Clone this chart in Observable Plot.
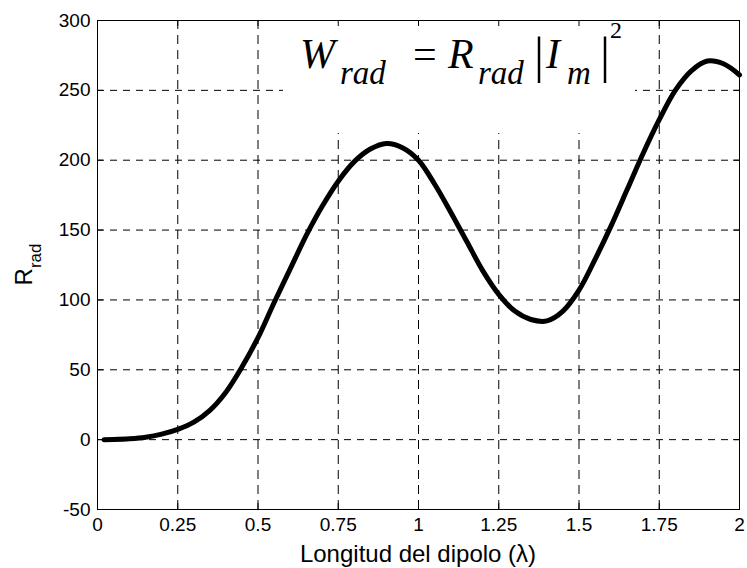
<!DOCTYPE html>
<html><head><meta charset="utf-8">
<script src="https://cdn.jsdelivr.net/npm/d3@7"></script>
<script src="https://cdn.jsdelivr.net/npm/@observablehq/plot@0.6"></script>
<style>body{margin:0;background:#fff}</style>
</head><body><div id="chart"></div>
<script>
// Dipole length (in wavelengths) and radiation resistance (ohms)
const lengths = [0.02,0.05,0.1,0.15,0.2,0.25,0.3,0.35,0.4,0.45,0.5,0.55,0.6,0.65,0.7,0.75,0.8,0.85,0.9,0.95,1.0,1.05,1.1,1.15,1.2,1.25,1.3,1.35,1.4,1.45,1.5,1.55,1.6,1.65,1.7,1.75,1.8,1.85,1.9,1.95,2.0];
const rrad    = [0,0.1,0.6,1.7,3.9,7.3,12.5,21,34,52,73,98,122,146,167,185,199,208,212,209,200,183,163,142,121,104,92,86,85,92,107,129,153,179,205,229,250,264,271,269,261];
const xTicks = [0,0.25,0.5,0.75,1,1.25,1.5,1.75,2];
const xTickLabels = ["0","0.25","0.5","0.75","1","1.25","1.5","1.75","2"];
const yTicks = [-50,0,50,100,150,200,250,300];
const yTickLabels = ["-50","0","50","100","150","200","250","300"];
const xLabel = "Longitud del dipolo (λ)";
const yLabelMain = "R", yLabelSub = "rad";

const data = lengths.map((x, i) => ({x, y: rrad[i]}));
const W = 747, H = 568, mL = 97, mR = 8, mT = 20, mB = 59;
const pw = W - mL - mR, ph = H - mT - mB, tk = 6;
const sans = "'Liberation Sans', Arial, sans-serif";
const serif = "'Liberation Serif', 'Times New Roman', serif";

const plot = Plot.plot({
  width: W, height: H, marginLeft: mL, marginRight: mR, marginTop: mT, marginBottom: mB,
  style: {fontFamily: sans, fontSize: "19px", background: "#fff", color: "#000"},
  x: {domain: [0, 2]},
  y: {domain: [-50, 300]},
  marks: [
    Plot.gridX(xTicks, {stroke: "#000", strokeOpacity: 1, strokeWidth: 1, strokeDasharray: "9,6"}),
    Plot.gridY(yTicks, {stroke: "#000", strokeOpacity: 1, strokeWidth: 1, strokeDasharray: "7,6"}),
    Plot.tickX(xTicks, {x: d => d, insetTop: ph - tk, stroke: "#000"}),
    Plot.tickX(xTicks, {x: d => d, insetBottom: ph - tk, stroke: "#000"}),
    Plot.tickY(yTicks, {y: d => d, insetRight: pw - tk, stroke: "#000"}),
    Plot.tickY(yTicks, {y: d => d, insetLeft: pw - tk, stroke: "#000"}),
    Plot.line(data, {x: "x", y: "y", stroke: "#000", strokeWidth: 5, curve: "catmull-rom", strokeLinejoin: "round"}),
    Plot.frame({stroke: "#000", strokeWidth: 1}),
    Plot.axisX(xTicks, {tickSize: 0, tickPadding: 8, label: null, fill: "#000", fontSize: 19,
      tickFormat: d => xTickLabels[xTicks.indexOf(d)]}),
    Plot.axisY(yTicks, {tickSize: 0, tickPadding: 7, label: null, fill: "#000", fontSize: 19,
      tickFormat: d => yTickLabels[yTicks.indexOf(d)]})
  ]
});
document.getElementById("chart").appendChild(plot);

const svg = d3.select(plot);
// white background box behind the formula (hides the grid there)
svg.insert("rect", "g[aria-label='tick']")
  .attr("x", 283).attr("y", mT).attr("width", 352).attr("height", 113).attr("fill", "#fff");

// x label
svg.append("text").attr("x", mL + pw / 2).attr("y", 562).attr("text-anchor", "middle")
  .attr("font-family", sans).attr("font-size", 24).attr("fill", "#000")
  .text(xLabel);
// y label with subscript
const yl = svg.append("text").attr("transform", `translate(32,${mT + ph / 2}) rotate(-90)`)
  .attr("text-anchor", "middle").attr("font-family", sans).attr("fill", "#000");
yl.append("tspan").attr("font-size", 24).text(yLabelMain);
yl.append("tspan").attr("font-size", 17).attr("dy", 9).text(yLabelSub);

// formula annotation: W_rad = R_rad |I_m|^2
const by = 68;
const f = svg.append("text").attr("font-family", serif).attr("fill", "#000").attr("text-anchor", "start");
const parts = [
  {t: "W",   x: 300, y: by,      s: 42, it: true},
  {t: "rad", x: 340, y: by + 16, s: 33, it: true},
  {t: "=",   x: 413, y: by,      s: 42, it: false},
  {t: "R",   x: 448, y: by,      s: 42, it: true},
  {t: "rad", x: 478, y: by + 16, s: 33, it: true},
  {t: "|",   x: 534, y: by + 4,  s: 50, it: false},
  {t: "I",   x: 546, y: by,      s: 42, it: true},
  {t: "m",   x: 567, y: by + 16, s: 33, it: true},
  {t: "|",   x: 600, y: by + 4,  s: 50, it: false},
  {t: "2",   x: 610, y: 38,      s: 24, it: false}
];
parts.forEach(p => {
  f.append("tspan").attr("x", p.x).attr("y", p.y)
    .attr("font-size", p.s).attr("font-style", p.it ? "italic" : "normal").text(p.t);
});
</script>
</body></html>
